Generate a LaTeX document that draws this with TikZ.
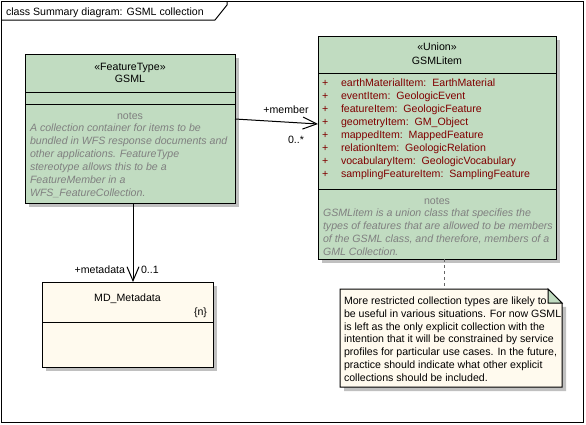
\documentclass[tikz,border=0pt]{standalone}
\usepackage{fontspec}
\setmainfont{Liberation Sans}
\usetikzlibrary{arrows.meta,shadows,calc}
\definecolor{umlgreen}{RGB}{193,220,193}
\definecolor{cream}{RGB}{255,250,238}
\definecolor{attrred}{RGB}{128,0,0}
\definecolor{notegray}{RGB}{128,128,128}
\definecolor{shadowgray}{RGB}{192,192,192}
\begin{document}
\begin{tikzpicture}[x=1pt,y=-1pt,
  font=\fontsize{10.6}{13}\selectfont,
  classbox/.style={draw=black, line width=1pt, inner sep=0pt, outer sep=0pt,
    drop shadow={shadow xshift=4pt, shadow yshift=-4pt, fill=shadowgray, opacity=1}},
  txt/.style={inner sep=0pt, outer sep=0pt},
  multi/.style={inner sep=0pt, outer sep=0pt, align=left},
  notetxt/.style={multi, color=notegray, font=\fontsize{10.6}{13}\selectfont\itshape},
  attr/.style={multi, color=attrred},
  comp/.style={line width=1pt},
  assoc/.style={line width=1pt, -{Straight Barb[length=14pt,width=12pt,line width=1pt]}},
  notelink/.style={line width=1pt, color=black!60, dash pattern=on 3pt off 3pt}
]
\useasboundingbox (0,0) rectangle (586,424);
\fill[white] (0,0) rectangle (586,424);
% frame
\draw[line width=1pt] (1,1) rectangle (583,422);
\draw[line width=1pt] (1,20) -- (215,20) -- (227,5) -- (227,1);
\node[txt, anchor=base west] (title) at (6,15) {class Summary diagram: GSML collection};

% GSML
\node[classbox, fill=umlgreen, minimum width=210pt, minimum height=149pt] (gsml) at (130,128.5) {};
\draw[comp] (gsml.west |- 0,92) -- (gsml.east |- 0,92);
\draw[comp] (gsml.west |- 0,104) -- (gsml.east |- 0,104);
\node[txt, anchor=base] (gsmlst) at (130,70) {«FeatureType»};
\node[txt, anchor=base] (gsmlname) at (130,82) {GSML};
\node[txt, anchor=base, color=notegray] (gsmlnotes) at (130,119) {notes};
\node[notetxt, anchor=base west] (gsmlbody) at (30,196) {A collection container for items to be\\bundled in WFS response documents and\\other applications. FeatureType\\stereotype allows this to be a\\FeatureMember in a\\WFS\_FeatureCollection.};

% GSMLitem
\node[classbox, fill=umlgreen, minimum width=238pt, minimum height=223pt] (item) at (437,147.5) {};
\draw[comp] (item.west |- 0,73) -- (item.east |- 0,73);
\draw[comp] (item.west |- 0,189) -- (item.east |- 0,189);
\node[txt, anchor=base] (itemst) at (437,50) {«Union»};
\node[txt, anchor=base] (itemname) at (437,64) {GSMLitem};
\node[attr, anchor=base west] (plus) at (322,177) {+\\+\\+\\+\\+\\+\\+\\+};
\node[attr, anchor=base west] (attrs) at (341,177) {earthMaterialItem:\ \ EarthMaterial\\eventItem:\ \ GeologicEvent\\featureItem:\ \ GeologicFeature\\geometryItem:\ \ GM\_Object\\mappedItem:\ \ MappedFeature\\relationItem:\ \ GeologicRelation\\vocabularyItem:\ \ GeologicVocabulary\\samplingFeatureItem:\ \ SamplingFeature};
\node[txt, anchor=base, color=notegray] (itemnotes) at (437,204) {notes};
\node[notetxt, anchor=base west] (itembody) at (323,255) {GSMLitem is a union class that specifies the\\types of features that are allowed to be members\\of the GSML class, and therefore, members of a\\GML Collection.};

% MD_Metadata
\node[classbox, fill=cream, minimum width=171pt, minimum height=85pt] (md) at (127.5,324.5) {};
\draw[comp] (md.west |- 0,322) -- (md.east |- 0,322);
\node[txt, anchor=base] (mdname) at (127.5,301) {MD\_Metadata};
\node[txt, anchor=base east] (mdn) at (207,315) {\{n\}};

% Note
\node[inner sep=0pt, outer sep=0pt, minimum width=222pt, minimum height=98pt] (note) at (451,338) {};
\fill[shadowgray] ($(note.north west)+(4,4)$) -- ($(note.north east)+(4,18)$) -- ($(note.south east)+(4,4)$) -- ($(note.south west)+(4,4)$) -- cycle;
\draw[line width=1pt, fill=cream] (note.north west) -- ($(note.north east)+(-14,0)$) -- ($(note.north east)+(0,14)$) -- (note.south east) -- (note.south west) -- cycle;
\draw[line width=1pt, fill=umlgreen] ($(note.north east)+(-14,0)$) -- ($(note.north east)+(-14,14)$) -- ($(note.north east)+(0,14)$) -- cycle;
\node[multi, anchor=base west, font=\fontsize{10.6}{12.7}\selectfont] (notebody) at (344,381) {More restricted collection types are likely to\\be useful in various situations. For now GSML\\is left as the only explicit collection with the\\intention that it will be constrained by service\\profiles for particular use cases. In the future,\\practice should indicate what other explicit\\collections should be included.};

% connectors
\coordinate (m1) at (gsml.east |- 0,119);
\coordinate (m2) at (item.west |- 0,124);
\draw[assoc] (m1) -- (m2);
\node[txt, anchor=base] (memberlbl) at (286,113) {+member};
\node[txt, anchor=base west] (membermult) at (288,143) {0..*};

\coordinate (d1) at ($(gsml.south)+(3,0)$);
\coordinate (d2) at (d1 |- md.north);
\draw[assoc] (d1) -- (d2);
\node[txt, anchor=base east] (mdlbl) at (125,273) {+metadata};
\node[txt, anchor=base west] (mdmult) at (141,273) {0..1};

\draw[notelink] ($(item.south)+(7,0)$) -- ($(note.north)+(-7,0)$);
\end{tikzpicture}
\end{document}
